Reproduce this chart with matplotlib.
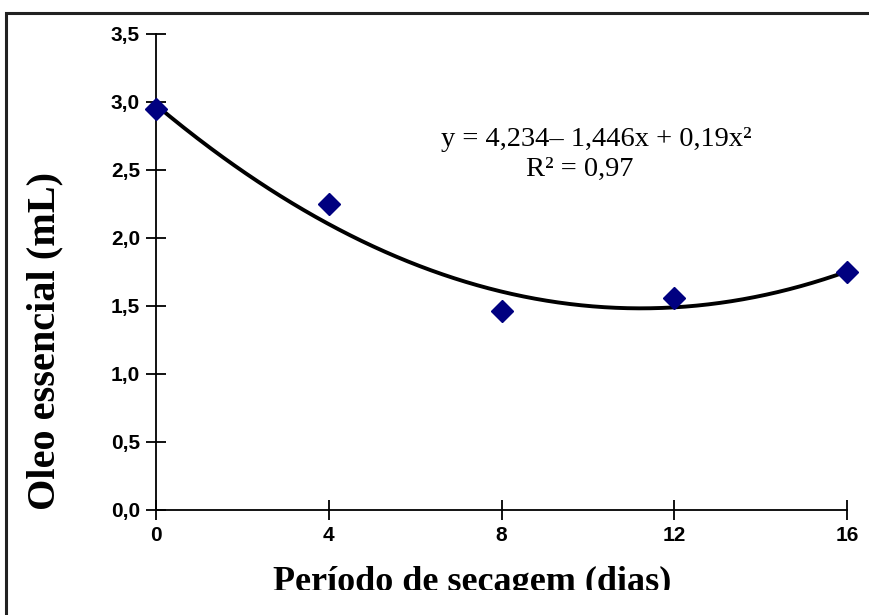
import numpy as np
import matplotlib
matplotlib.use("Agg")
import matplotlib.pyplot as plt
from matplotlib.patches import Rectangle

# data
dias = [0, 4, 8, 12, 16]
oleo = [2.95, 2.25, 1.46, 1.56, 1.75]
coef = [4.234, -1.446, 0.19]  # y = a + b*x + c*x^2, x coded 1..5
xticks = [0, 4, 8, 12, 16]
yticks = [0.0, 0.5, 1.0, 1.5, 2.0, 2.5, 3.0, 3.5]
ytick_labels = ["0,0", "0,5", "1,0", "1,5", "2,0", "2,5", "3,0", "3,5"]

W, H = 869, 615
fig = plt.figure(figsize=(W/100, H/100), dpi=100)
fig.patches.append(Rectangle((6/W, -0.1), 1.2, (H-13)/H + 0.1, transform=fig.transFigure,
                             fill=False, edgecolor="#222222", linewidth=2.2, figure=fig))
ax = fig.add_axes([156/W, (H-510)/H, (847-156)/W, (510-34)/H])

d = np.linspace(0, 16, 300)
xc = d/4 + 1
yfit = coef[0] + coef[1]*xc + coef[2]*xc**2
ax.plot(d, yfit, color="black", lw=2.8, zorder=2)
ax.plot(dias, oleo, linestyle="none", marker="D", markersize=11, color="#000080", zorder=3, clip_on=False)

ax.set_xlim(0, 16)
ax.set_ylim(0, 3.5)
ax.set_xticks(xticks)
ax.set_yticks(yticks)
ax.set_yticklabels(ytick_labels)
for s in ["top", "right"]:
    ax.spines[s].set_visible(False)
for s in ["left", "bottom"]:
    ax.spines[s].set_linewidth(1.3)
ax.tick_params(direction="inout", length=15, width=1.3, labelsize=15, pad=4)
for lab in ax.get_xticklabels() + ax.get_yticklabels():
    lab.set_fontweight("bold")
    lab.set_family("Liberation Sans")

xl = fig.text(472/W, (H-591)/H, "Período de secagem (dias)", family="Liberation Serif",
              fontweight="bold", fontsize=26, ha="center", va="baseline")
clip = Rectangle((0, (H-590)/H), 1, 1, transform=fig.transFigure, visible=False)
fig.patches.append(clip)
xl.set_clip_path(clip)
fig.text(45/W, (H-341)/H, "Oleo essencial (mL)", family="Liberation Serif",
         fontweight="bold", fontsize=29, ha="center", va="center", rotation=90)

fig.text(596/W, (H-140)/H, "y = 4,234– 1,446x + 0,19x²",
         family="Liberation Serif", fontsize=20.5, ha="center", va="center")
fig.text(580/W, (H-169)/H, "R² = 0,97",
         family="Liberation Serif", fontsize=20.5, ha="center", va="center")

fig.savefig("out.png", dpi=100)
